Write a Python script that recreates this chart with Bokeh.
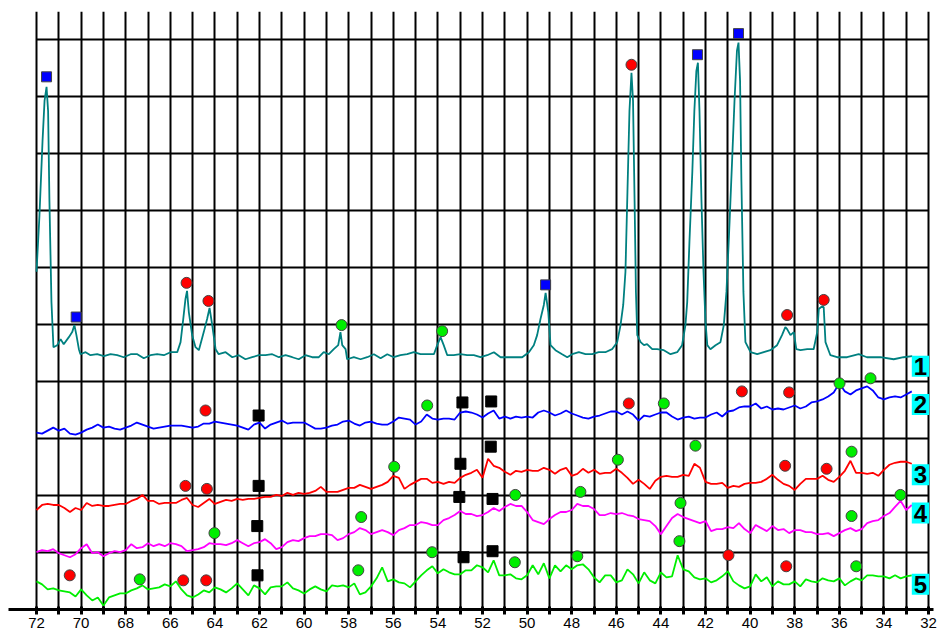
import numpy as np
from bokeh.plotting import figure
from bokeh.models import FixedTicker, Range1d, Label
from bokeh.embed import file_html
from bokeh.resources import INLINE

# ---------------- data ----------------
major_ticks = list(range(32, 73, 2))          # labelled 2-theta ticks
minor_ticks = list(range(33, 72, 2))
grid_ticks = list(range(32, 73))

# pattern 1 (teal), irregular sampling around the sharp peaks: 2-theta, intensity (a.u.)
p1_x = [72.00, 71.87, 71.73, 71.64, 71.55, 71.48, 71.42, 71.33, 71.24, 71.07, 70.92, 70.78,
        70.55, 70.40, 70.30, 70.21, 70.10, 70.03, 69.80, 69.58, 69.28, 68.98, 68.68, 68.38,
        68.09, 67.78, 67.48, 67.19, 66.89, 66.59, 66.29, 65.99, 65.69, 65.54, 65.42, 65.32,
        65.25, 65.17, 65.02, 64.87, 64.72, 64.50, 64.35, 64.24, 64.12, 63.97, 63.83, 63.52,
        63.22, 62.93, 62.63, 62.33, 62.03, 61.73, 61.43, 61.13, 60.83, 60.53, 60.24, 59.94,
        59.64, 59.34, 59.12, 58.89, 58.67, 58.47, 58.37, 58.29, 58.14, 58.07, 57.77, 57.47,
        57.17, 56.87, 56.57, 56.27, 55.98, 55.68, 55.38, 55.08, 54.78, 54.48, 54.18, 54.03,
        53.88, 53.74, 53.58, 53.29, 52.99, 52.69, 52.39, 52.09, 51.79, 51.49, 51.19, 50.82,
        50.52, 50.22, 49.92, 49.70, 49.55, 49.40, 49.25, 49.17, 49.05, 48.95, 48.73, 48.43,
        48.20, 47.98, 47.68, 47.38, 47.08, 46.79, 46.49, 46.19, 45.96, 45.81, 45.69, 45.59,
        45.50, 45.41, 45.32, 45.25, 45.18, 45.12, 45.06, 44.91, 44.76, 44.62, 44.39, 44.17,
        43.87, 43.57, 43.27, 43.05, 42.90, 42.82, 42.72, 42.59, 42.50, 42.41, 42.34, 42.27,
        42.18, 42.09, 42.00, 41.92, 41.78, 41.55, 41.33, 41.18, 41.06, 40.92, 40.79, 40.70,
        40.59, 40.52, 40.45, 40.39, 40.30, 40.21, 39.98, 39.68, 39.39, 39.09, 38.79, 38.57,
        38.42, 38.34, 38.19, 38.04, 37.93, 37.74, 37.44, 37.15, 36.99, 36.92, 36.81, 36.70,
        36.62, 36.40, 36.10, 35.65, 35.13, 34.76, 34.16, 33.56, 33.12, 32.73]
p1_y = [336, 391, 466, 506, 520, 496, 406, 306, 261, 263, 269, 264,
        271, 276, 283, 273, 259, 254, 256, 253, 254, 252, 254, 253,
        251, 254, 254, 250, 253, 254, 253, 256, 256, 266, 289, 309,
        317, 296, 273, 261, 258, 276, 289, 300, 283, 259, 254, 256,
        251, 253, 249, 251, 253, 253, 254, 251, 253, 251, 249, 253,
        251, 251, 256, 254, 259, 263, 276, 263, 259, 249, 251, 249,
        251, 254, 250, 254, 251, 253, 254, 256, 254, 254, 254, 263,
        271, 263, 253, 253, 254, 253, 253, 251, 253, 256, 251, 251,
        251, 251, 256, 263, 273, 289, 303, 315, 296, 263, 258, 254,
        251, 254, 256, 254, 254, 256, 256, 259, 266, 283, 303, 336,
        416, 496, 534, 506, 406, 316, 273, 266, 263, 264, 259, 259,
        258, 254, 256, 263, 283, 306, 366, 436, 496, 536, 544, 496,
        406, 336, 286, 263, 259, 263, 266, 283, 316, 386, 456, 506,
        556, 564, 526, 426, 316, 266, 256, 254, 256, 258, 263, 273,
        281, 279, 273, 276, 259, 258, 259, 259, 276, 299, 301, 301,
        266, 253, 251, 251, 254, 251, 251, 249, 251, 252]

# patterns 2-5: step scan 72 -> 32.75 deg, step 0.25 deg
scan_x = np.round(np.arange(72.0, 32.70, -0.25), 2)
p2_y = [176, 175, 178, 181, 178, 180, 175, 174, 176, 179,
        181, 184, 181, 182, 180, 179, 181, 183, 186, 184,
        182, 180, 181, 182, 183, 183, 183, 182, 181, 182,
        185, 185, 187, 186, 185, 184, 183, 181, 179, 184,
        186, 180, 184, 186, 188, 185, 186, 186, 186, 183,
        180, 180, 181, 183, 184, 187, 188, 185, 183, 186,
        187, 185, 184, 184, 187, 191, 190, 189, 184, 187,
        194, 190, 189, 190, 190, 189, 196, 197, 196, 194,
        191, 195, 198, 190, 192, 190, 192, 191, 192, 191,
        196, 198, 196, 193, 195, 198, 195, 193, 191, 190,
        192, 193, 195, 197, 197, 194, 197, 194, 188, 193,
        192, 194, 196, 196, 192, 189, 191, 192, 190, 191,
        191, 194, 196, 192, 197, 198, 201, 202, 202, 205,
        200, 202, 199, 200, 199, 201, 203, 200, 202, 206,
        207, 209, 212, 216, 225, 217, 214, 218, 220, 222,
        218, 211, 209, 211, 212, 211, 214, 217]
p3_y = [99, 104, 105, 104, 104, 101, 97, 101, 99, 106,
        103, 104, 103, 103, 104, 105, 105, 108, 110, 114,
        108, 108, 105, 106, 106, 106, 109, 111, 104, 102,
        106, 110, 105, 107, 109, 108, 110, 109, 110, 110,
        111, 112, 112, 114, 113, 116, 114, 116, 115, 116,
        118, 122, 117, 117, 117, 119, 121, 121, 124, 122,
        120, 122, 124, 127, 133, 131, 120, 124, 127, 130,
        130, 126, 127, 125, 127, 126, 131, 134, 136, 139,
        131, 150, 143, 141, 137, 134, 138, 137, 139, 138,
        138, 141, 139, 135, 139, 141, 133, 135, 140, 136,
        139, 135, 136, 136, 140, 136, 131, 125, 129, 125,
        120, 128, 132, 133, 132, 132, 134, 133, 145, 141,
        127, 125, 125, 126, 121, 123, 122, 125, 126, 126,
        127, 130, 134, 129, 125, 123, 119, 125, 130, 130,
        130, 133, 129, 127, 132, 138, 148, 136, 136, 135,
        136, 133, 139, 144, 146, 147, 147, 145]
p4_y = [57, 59, 58, 60, 56, 54, 52, 55, 61, 65,
        56, 57, 53, 56, 58, 57, 59, 65, 61, 62,
        66, 63, 65, 63, 66, 65, 63, 58, 59, 60,
        62, 66, 65, 65, 64, 66, 69, 66, 63, 66,
        67, 70, 66, 60, 62, 67, 69, 68, 71, 73,
        73, 75, 75, 74, 69, 71, 75, 77, 81, 79,
        75, 77, 79, 77, 74, 79, 81, 84, 84, 87,
        86, 84, 84, 89, 91, 94, 98, 95, 95, 93,
        94, 97, 101, 98, 102, 105, 103, 103, 97, 89,
        87, 85, 90, 94, 97, 97, 99, 105, 103, 103,
        100, 94, 94, 96, 95, 96, 94, 93, 90, 89,
        88, 83, 75, 83, 91, 95, 92, 90, 88, 86,
        88, 78, 80, 80, 82, 81, 86, 80, 76, 84,
        81, 78, 83, 79, 80, 76, 79, 79, 77, 77,
        75, 75, 76, 73, 76, 79, 81, 78, 80, 86,
        88, 89, 93, 96, 102, 108, 99, 104]
p5_y = [28, 25, 20, 21, 19, 18, 17, 13, 20, 14,
        9, 12, 4, 12, 14, 16, 16, 19, 21, 24,
        20, 21, 22, 25, 23, 28, 20, 14, 12, 15,
        19, 17, 22, 20, 17, 21, 26, 20, 14, 24,
        21, 15, 22, 23, 23, 27, 21, 19, 16, 20,
        23, 20, 18, 24, 23, 24, 22, 26, 15, 17,
        23, 31, 42, 28, 30, 27, 26, 22, 28, 34,
        39, 43, 36, 40, 37, 35, 35, 39, 39, 44,
        42, 37, 49, 34, 34, 35, 31, 30, 34, 44,
        35, 46, 31, 44, 38, 44, 40, 44, 45, 40,
        32, 27, 34, 34, 27, 29, 40, 35, 26, 37,
        29, 26, 37, 32, 33, 54, 40, 38, 32, 30,
        31, 27, 29, 33, 38, 28, 24, 21, 23, 35,
        28, 32, 23, 28, 25, 25, 28, 23, 30, 28,
        27, 31, 29, 28, 31, 24, 28, 31, 29, 34,
        34, 33, 33, 31, 34, 31, 33, 34]

# phase markers
blue_sq_x = [71.55, 70.22, 49.17, 42.36, 40.52]
blue_sq_y = [530, 291, 323, 552, 573]
red_ci_x = [45.32, 65.27, 64.29, 38.34, 36.70, 64.42, 45.44, 40.37, 38.25,
            65.32, 64.36, 38.43, 36.57, 70.51, 65.42, 64.39, 40.97, 38.38]
red_ci_y = [542, 325, 307, 293, 308, 198, 205, 217, 216,
            123, 120, 143, 140, 34, 29, 29, 54, 43]
green_ci_x = [58.32, 53.81, 54.48, 43.87, 35.99, 34.60, 55.96, 45.93, 42.45, 35.45,
              64.02, 57.44, 50.53, 47.61, 43.12, 35.45, 33.26,
              67.37, 57.57, 54.26, 50.55, 47.75, 43.17, 35.24]
green_ci_y = [283, 277, 203, 205, 225, 230, 142, 149, 163, 157,
              76, 92, 114, 117, 106, 93, 114,
              30, 39, 57, 47, 53, 68, 43]
black_sq_x = [62.04, 52.90, 51.61, 62.04, 52.99, 51.63, 62.10, 53.04, 51.55, 62.09, 52.85, 51.55]
black_sq_y = [193, 206, 207, 123, 145, 162, 83, 112, 110, 34, 52, 58]

sample_labels = ["1", "2", "3", "4", "5"]
label_x = 32.36
label_y = [242, 204, 134, 96, 25]

# ---------------- figure ----------------
p = figure(width=937, height=630, x_range=Range1d(73.256, 31.776), y_range=Range1d(0, 595),
           output_backend="svg", toolbar_location=None, y_axis_location=None,
           min_border_left=8, min_border_right=4, min_border_top=11, min_border_bottom=0)
p.outline_line_color = None
p.background_fill_color = "white"
p.border_fill_color = "white"

p.xgrid.ticker = FixedTicker(ticks=grid_ticks)
p.xgrid.grid_line_color = "black"
p.xgrid.grid_line_width = 2
p.ygrid.ticker = FixedTicker(ticks=[595 / 10.5 * i for i in range(1, 11)])
p.ygrid.grid_line_color = "black"
p.ygrid.grid_line_width = 2
p.ygrid.cross_bounds = (32, 72)

ax = p.xaxis[0]
ax.ticker = FixedTicker(ticks=major_ticks, minor_ticks=minor_ticks)
ax.axis_line_width = 3
ax.axis_line_color = "black"
ax.major_tick_line_width = 3
ax.minor_tick_line_width = 3
ax.major_tick_in = 3
ax.major_tick_out = 5
ax.minor_tick_in = 3
ax.minor_tick_out = 5
ax.major_label_text_font = "Liberation Sans"
ax.major_label_text_font_size = "15px"
ax.major_label_text_color = "black"
ax.major_label_standoff = 3

p.line(p1_x, p1_y, line_color="#008080", line_width=1.8)
p.line(scan_x, p2_y, line_color="#0000ff", line_width=1.8)
p.line(scan_x, p3_y, line_color="#ff0000", line_width=1.8)
p.line(scan_x, p4_y, line_color="#ff00ff", line_width=1.8)
p.line(scan_x, p5_y, line_color="#00ee00", line_width=1.8)

p.scatter(blue_sq_x, blue_sq_y, marker="square", size=10, fill_color="#0000ff", line_color="#444444", line_width=1)
p.scatter(black_sq_x, black_sq_y, marker="square", size=11, fill_color="black", line_color="black", line_width=1)
p.scatter(red_ci_x, red_ci_y, marker="circle", size=11, fill_color="#ff0000", line_color="#444444", line_width=1)
p.scatter(green_ci_x, green_ci_y, marker="circle", size=11, fill_color="#00ee00", line_color="#444444", line_width=1)

for t, yy in zip(sample_labels, label_y):
    p.add_layout(Label(x=label_x, y=yy, text=t, text_align="center", text_baseline="middle",
                       text_font="Liberation Sans", text_font_size="24px", text_font_style="bold",
                       text_color="black", background_fill_color="#00ffff", padding=2))

open("out.html", "w").write(file_html(p, INLINE))
